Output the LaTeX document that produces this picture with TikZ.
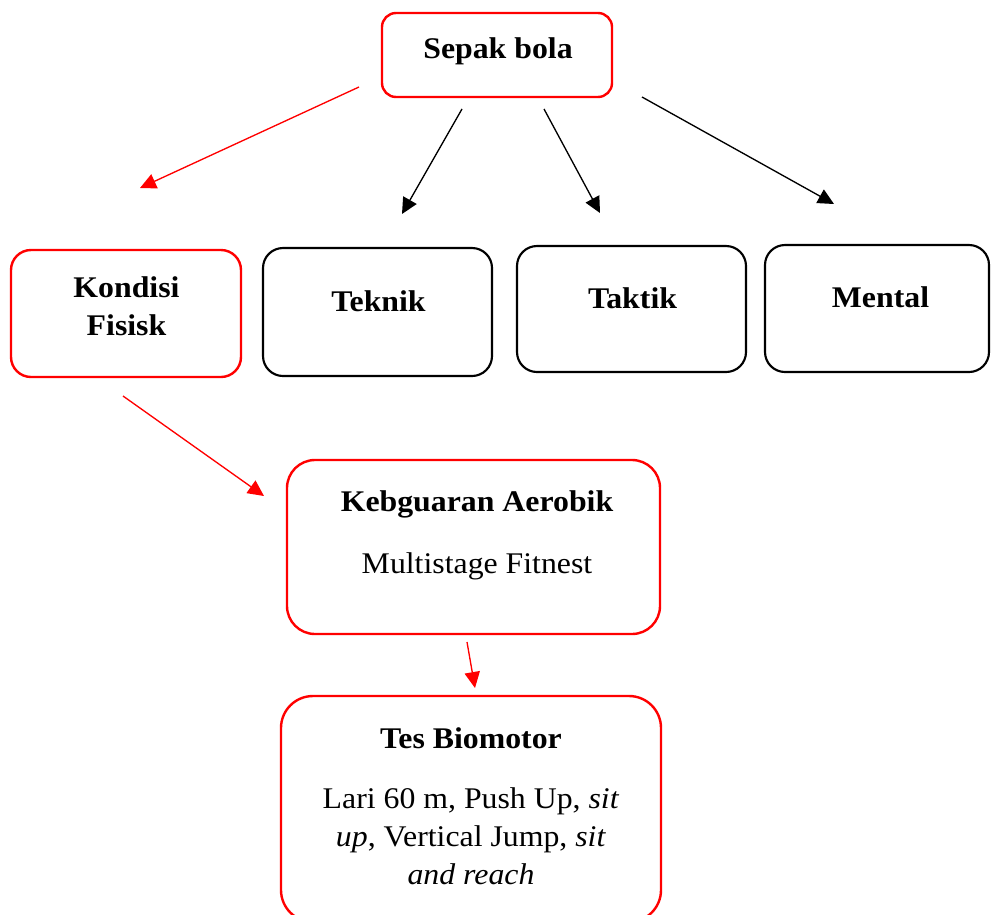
\documentclass[tikz,border=0pt]{standalone}
\usepackage{fontspec}
\setmainfont[FakeStretch=1.06]{Liberation Serif}
\usetikzlibrary{arrows.meta}
\begin{document}
\begin{tikzpicture}[x=0.75pt,y=-0.75pt,
  redbox/.style={draw=red, line width=1.8pt, inner sep=0pt, rounded corners=#1},
  blkbox/.style={draw=black, line width=1.6pt, inner sep=0pt, rounded corners=#1},
  txt/.style={inner sep=0pt, anchor=base, font=\fontsize{22.5}{28.5}\selectfont},
  ttl/.style={txt, font=\fontsize{22.5}{28.5}\selectfont\bfseries},
  redarr/.style={draw=red, line width=1pt, -{Triangle[length=12pt,width=11.5pt]}, fill=red},
  blkarr/.style={draw=black, line width=1pt, -{Triangle[length=12pt,width=11.5pt]}, fill=black}]
\useasboundingbox (0,0) rectangle (991,914);
% boxes
\node[redbox=10.5pt, minimum width=172.5pt, minimum height=63pt] (sepak) at (497,55) {};
\node[redbox=15pt, minimum width=172.5pt, minimum height=95.25pt] (kondisi) at (126,313.5) {};
\node[blkbox=15pt, minimum width=171.75pt, minimum height=96pt] (teknik) at (377.5,312) {};
\node[blkbox=15pt, minimum width=171.75pt, minimum height=94.5pt] (taktik) at (631.5,309) {};
\node[blkbox=15pt, minimum width=168pt, minimum height=95.25pt] (mental) at (877,308.5) {};
\node[redbox=21pt, minimum width=279.75pt, minimum height=130.5pt] (keb) at (473.5,547) {};
\node[redbox=24pt, minimum width=285pt, minimum height=169.5pt] (tes) at (471,809) {};
% texts
\node[ttl] (sepakT) at (498,58) {Sepak bola};
\node[ttl] (kondisiT) at (126.5,297) {\begin{tabular}[t]{@{}c@{}}Kondisi\\Fisisk\end{tabular}};
\node[ttl] (teknikT) at (378.5,311) {Teknik};
\node[ttl] (taktikT) at (632.5,308) {Taktik};
\node[ttl] (mentalT) at (880.5,307) {Mental};
\node[txt] (kebT) at (477,511) {\begin{tabular}[t]{@{}c@{}}\bfseries Kebguaran Aerobik\\[18pt] Multistage Fitnest\end{tabular}};
\node[txt] (tesT) at (471,748) {\begin{tabular}[t]{@{}c@{}}\bfseries Tes Biomotor\\[16.5pt] Lari 60 m, Push Up, \textit{sit}\\ \textit{up}, Vertical Jump, \textit{sit}\\ \textit{and reach}\end{tabular}};
% arrow end points
\coordinate (a1s) at (359,87);  \coordinate (a1e) at (140,188);
\coordinate (a2s) at (462,109); \coordinate (a2e) at (402,214);
\coordinate (a3s) at (544,109); \coordinate (a3e) at (600,213);
\coordinate (a4s) at (642,97);  \coordinate (a4e) at (834,204);
\coordinate (a5s) at (123,396); \coordinate (a5e) at (264,496);
\coordinate (a6s) at (467,642); \coordinate (a6e) at (475,688);
\draw[redarr] (a1s) -- (a1e);
\draw[blkarr] (a2s) -- (a2e);
\draw[blkarr] (a3s) -- (a3e);
\draw[blkarr] (a4s) -- (a4e);
\draw[redarr] (a5s) -- (a5e);
\draw[redarr] (a6s) -- (a6e);
\end{tikzpicture}
\end{document}
